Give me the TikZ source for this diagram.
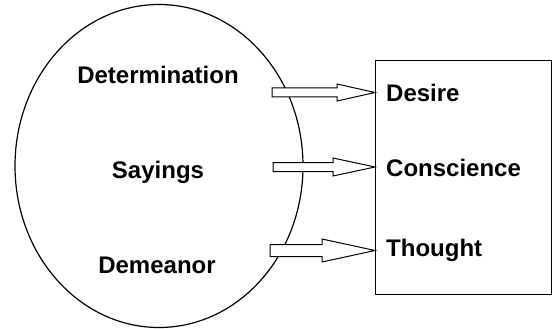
\documentclass[tikz,border=0pt]{standalone}
\usepackage{fontspec}
\setmainfont{Liberation Sans}
\usepackage{tikz}
\usetikzlibrary{calc}
\usetikzlibrary{shapes.geometric}

\tikzset{
	word/.style={font=\bfseries\fontsize{24}{28}\selectfont, inner sep=0pt},
	boxword/.style={word, anchor=west}
}

% hollow block arrow: start, tip, shaft half width, head half width, head length
\newcommand{\blockarrow}[5]{%
	\filldraw[black, line width=1pt, fill=white]
		($#1+(0,-#3)$) -- ($#2+(-#5,-#3)$) -- ($#2+(-#5,-#4)$) -- #2
		-- ($#2+(-#5,#4)$) -- ($#2+(-#5,#3)$) -- ($#1+(0,#3)$) -- cycle;}

\begin{document}
\begin{tikzpicture}[x=1pt, y=-1pt]
		\useasboundingbox (0,0) rectangle (552,329);
		\node[draw, black, ellipse, line width=1.2pt, inner sep=0pt,
			minimum width=288pt, minimum height=323pt] (traits) at (159,166) {};
		\node[draw, black, line width=1.4pt, anchor=north west,
			minimum width=176pt, minimum height=234pt, inner sep=0pt] (mind) at (375,60) {};
		\node[word] (determination) at (158,75) {Determination};
		\node[word] (sayings) at (158,172) {Sayings};
		\node[word] (demeanor) at (157,265) {Demeanor};
		\node[boxword] (desire) at (386,93) {Desire};
		\node[boxword] (conscience) at (386,168) {Conscience};
		\node[boxword] (thought) at (386,250) {Thought};
		\coordinate (s1) at (272,92.5);
		\coordinate (s2) at (273,167);
		\coordinate (s3) at (270,250.5);
		\coordinate (t1) at (mind.west |- s1);
		\coordinate (t2) at (mind.west |- s2);
		\coordinate (t3) at (mind.west |- s3);
		\blockarrow{(s1)}{(t1)}{4.5}{8.5}{38}
		\blockarrow{(s2)}{(t2)}{4.5}{9}{42}
		\blockarrow{(s3)}{(t3)}{6}{11.5}{53}
		\end{tikzpicture}
\end{document}
